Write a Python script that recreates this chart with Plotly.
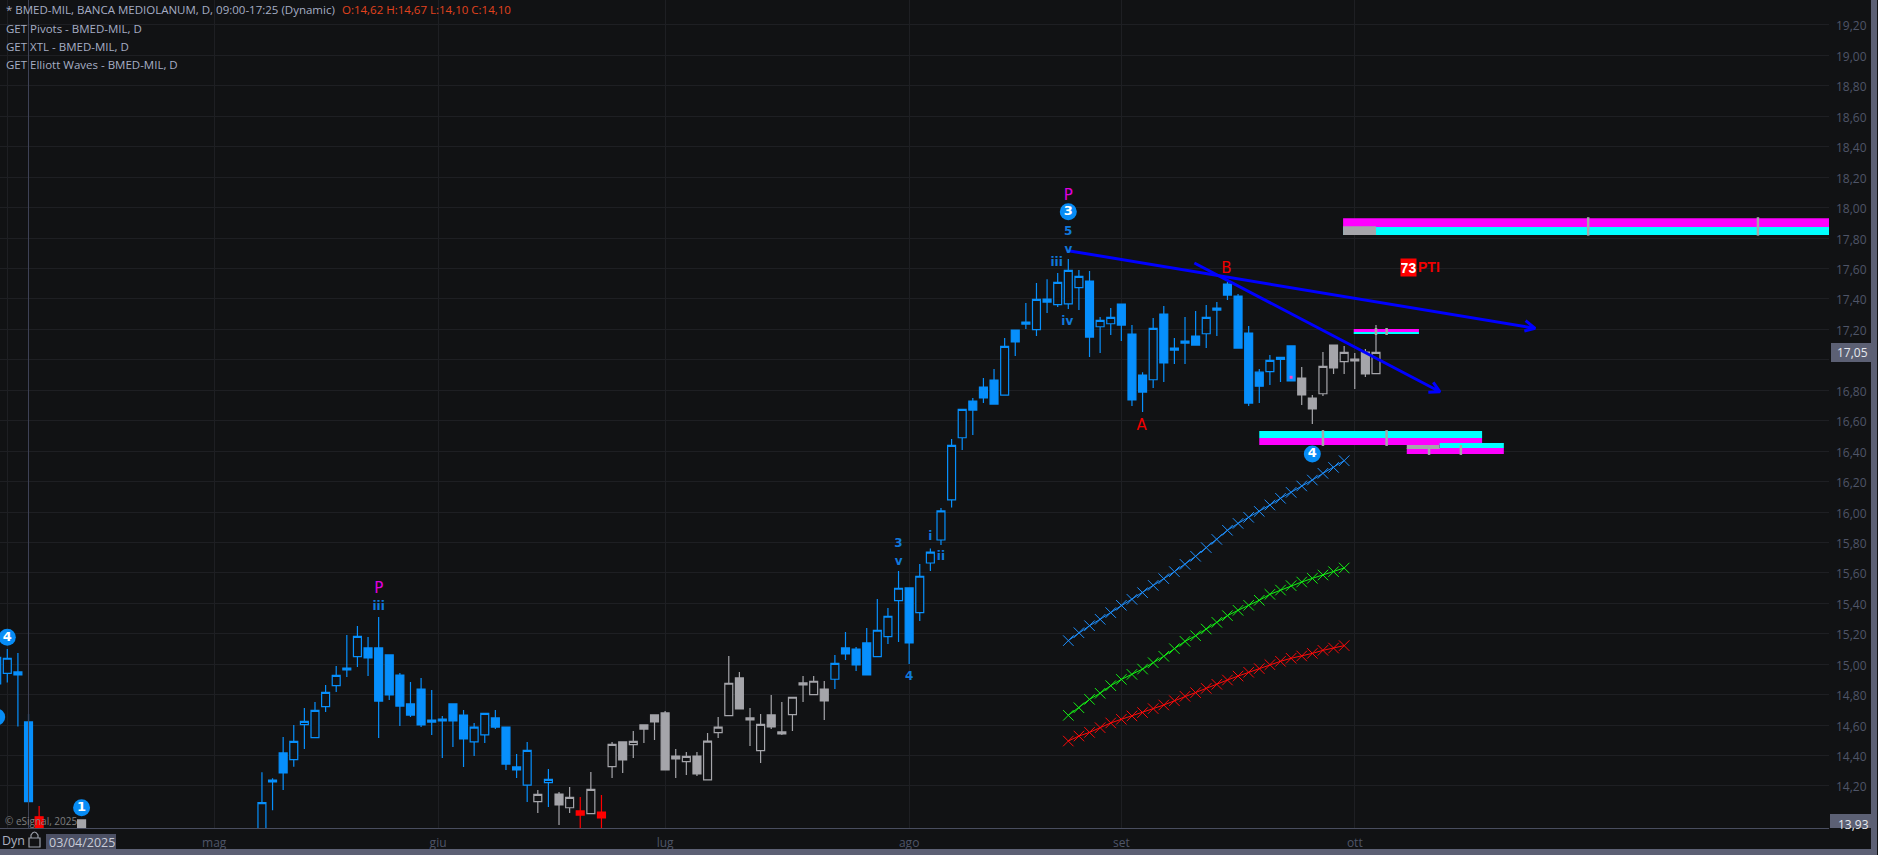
import plotly.graph_objects as go

# ---------- candle data ----------
candle_index = [-1, 0, 1, 2, 3, 7] + list(range(24, 130))
candle_group = list("bbbbrg" + "bbbbbbbbbbbbbbbbbbbbbbbbbb" + "g" + "b" + "gg" + "r" + "g" + "r"
                    + "ggggggggggggggggggggg" + "b" * 44 + "gggggggg")
open_ = [14.87, 14.94, 14.949, 14.621, 13.997, 13.977,
         13.85, 14.239, 14.417, 14.373, 14.603, 14.517, 14.721, 14.859, 14.975, 15.05,
         15.107, 15.107, 15.061, 14.929, 14.739, 14.837, 14.633, 14.64, 14.739, 14.666,
         14.489, 14.535, 14.647, 14.587, 14.325, 14.206, 14.097, 14.222, 14.147, 14.057,
         14.036, 14.018, 14.029, 14.327, 14.489, 14.471, 14.601, 14.667, 14.68, 14.397,
         14.36, 14.397, 14.24, 14.55, 14.662, 14.91, 14.647, 14.432, 14.667, 14.555,
         14.669, 14.877, 14.80, 14.837, 14.901, 15.107, 15.10, 15.14, 15.05, 15.181,
         15.418, 15.501, 15.339, 15.665, 15.816, 16.08, 16.488, 16.729, 16.821, 16.867,
         16.768, 17.195, 17.248, 17.198, 17.399, 17.362, 17.368, 17.474, 17.517, 17.217,
         17.237, 17.366, 17.169, 16.90, 16.869, 17.301, 17.077, 17.123, 17.156, 17.171,
         17.34, 17.498, 17.419, 17.176, 16.919, 16.922, 17.003, 17.091, 16.88, 16.749,
         16.777, 17.097, 16.988, 17.005, 17.051, 16.909]
high = [15.05, 15.10, 15.074, 14.673, 14.069, 13.977,
        14.29, 14.25, 14.522, 14.60, 14.712, 14.752, 14.863, 14.988, 15.192, 15.251,
        15.179, 15.31, 15.061, 14.942, 14.883, 14.909, 14.831, 14.66, 14.739, 14.699,
        14.614, 14.677, 14.699, 14.587, 14.41, 14.489, 14.173, 14.311, 14.16, 14.193,
        14.127, 14.292, 14.141, 14.489, 14.489, 14.561, 14.601, 14.667, 14.693, 14.443,
        14.423, 14.423, 14.548, 14.653, 15.054, 14.949, 14.713, 14.673, 14.798, 14.752,
        14.783, 14.923, 14.923, 14.89, 15.061, 15.212, 15.113, 15.238, 15.429, 15.37,
        15.613, 15.501, 15.659, 15.76, 16.026, 16.48, 16.674, 16.749, 16.88, 16.939,
        17.143, 17.195, 17.373, 17.504, 17.53, 17.57, 17.662, 17.59, 17.583, 17.281,
        17.34, 17.366, 17.228, 16.919, 17.274, 17.353, 17.143, 17.281, 17.32, 17.36,
        17.379, 17.511, 17.432, 17.222, 16.939, 17.031, 17.018, 17.091, 16.953, 16.769,
        17.051, 17.097, 17.09, 17.045, 17.071, 17.229]
low = [14.86, 14.879, 14.59, 14.097, 13.80, 13.85,
       13.80, 14.04, 14.173, 14.327, 14.443, 14.517, 14.686, 14.817, 14.916, 14.982,
       14.923, 14.515, 14.765, 14.594, 14.653, 14.587, 14.535, 14.384, 14.456, 14.325,
       14.397, 14.482, 14.574, 14.305, 14.252, 14.095, 14.022, 14.062, 13.944, 14.022,
       13.90, 14.016, 13.90, 14.252, 14.285, 14.384, 14.482, 14.502, 14.305, 14.253,
       14.272, 14.266, 14.24, 14.515, 14.66, 14.706, 14.463, 14.351, 14.575, 14.535,
       14.561, 14.752, 14.798, 14.634, 14.837, 15.028, 14.956, 14.929, 15.048, 15.133,
       15.146, 15.002, 15.284, 15.613, 15.783, 16.03, 16.407, 16.506, 16.716, 16.709,
       16.768, 17.025, 17.202, 17.156, 17.307, 17.347, 17.333, 17.327, 17.018, 17.044,
       17.163, 17.123, 16.696, 16.657, 16.814, 16.854, 16.972, 16.972, 17.097, 17.077,
       17.156, 17.393, 17.077, 16.696, 16.716, 16.834, 16.854, 16.861, 16.703, 16.578,
       16.762, 16.907, 16.907, 16.808, 16.887, 16.907]
close = [15.045, 15.039, 14.929, 14.097, 13.85, 13.85,
         14.09, 14.226, 14.285, 14.493, 14.625, 14.697, 14.815, 14.927, 14.962, 15.183,
         15.041, 14.758, 14.798, 14.725, 14.666, 14.601, 14.62, 14.627, 14.627, 14.509,
         14.587, 14.677, 14.587, 14.344, 14.305, 14.434, 14.145, 14.243, 14.075, 14.125,
         14.009, 14.178, 13.99, 14.473, 14.371, 14.493, 14.574, 14.621, 14.305, 14.378,
         14.395, 14.279, 14.494, 14.586, 14.875, 14.706, 14.634, 14.605, 14.588, 14.542,
         14.783, 14.864, 14.888, 14.759, 15.006, 15.067, 14.995, 14.929, 15.223, 15.315,
         15.499, 15.14, 15.578, 15.737, 16.007, 16.438, 16.674, 16.67, 16.749, 16.709,
         17.088, 17.117, 17.235, 17.397, 17.379, 17.509, 17.587, 17.548, 17.149, 17.259,
         17.279, 17.228, 16.736, 16.788, 17.206, 16.979, 17.064, 17.11, 17.097, 17.279,
         17.327, 17.425, 17.077, 16.716, 16.827, 16.996, 17.016, 16.861, 16.769, 16.677,
         16.957, 16.946, 17.049, 16.992, 16.907, 17.049]

# ---------- crossed lines ----------
xline_index = list(range(100, 127))
xline_blue = [15.155, 15.207, 15.253, 15.295, 15.339, 15.387, 15.426, 15.47, 15.518, 15.562, 15.608,
              15.656, 15.709, 15.766, 15.82, 15.88, 15.925, 15.965, 16.004, 16.046, 16.09, 16.129,
              16.171, 16.21, 16.254, 16.293, 16.337]
xline_green = [14.664, 14.714, 14.769, 14.809, 14.859, 14.9, 14.933, 14.968, 15.01, 15.052, 15.102,
               15.15, 15.187, 15.231, 15.275, 15.319, 15.354, 15.387, 15.42, 15.459, 15.487, 15.516,
               15.54, 15.564, 15.586, 15.608, 15.632]
xline_red = [14.495, 14.528, 14.552, 14.583, 14.614, 14.638, 14.66, 14.682, 14.708, 14.732, 14.76,
             14.789, 14.813, 14.841, 14.868, 14.896, 14.922, 14.947, 14.971, 14.997, 15.019, 15.039,
             15.054, 15.071, 15.091, 15.106, 15.122]

# ---------- zones: x0, x1, y0, y1, colour ----------
MAGENTA, CYAN, ZGRAY = "#ff00ff", "#00ffff", "#a5a5aa"
zone_x0 = [125.9, 125.9, 125.9, 126.9, 126.9, 118, 118, 135, 131.9, 131.9]
zone_x1 = [172.5, 172.5, 129, 133.05, 133.05, 139, 139, 141.05, 141.05, 135]
zone_y0 = [17.872, 17.82, 17.82, 17.183, 17.17, 16.486, 16.44, 16.421, 16.381, 16.414]
zone_y1 = [17.93, 17.872, 17.878, 17.202, 17.183, 16.532, 16.486, 16.453, 16.421, 16.44]
zone_col = [MAGENTA, CYAN, ZGRAY, MAGENTA, CYAN, CYAN, MAGENTA, CYAN, MAGENTA, ZGRAY]
tick_x = [149, 165, 129, 130, 124, 130, 134, 137]
tick_y0 = [17.816, 17.816, 17.163, 17.163, 16.434, 16.434, 16.375, 16.375]
tick_y1 = [17.937, 17.937, 17.209, 17.209, 16.538, 16.538, 16.44, 16.44]

# ---------- blue arrows ----------
arrow1_x = [100, 144, 143.1, 144, 142.98]
arrow1_y = [17.717, 17.207, 17.257, 17.207, 17.189]
arrow2_x = [111.88, 135.03, 134.4, 135.03, 133.93]
arrow2_y = [17.636, 16.79, 16.852, 16.79, 16.786]

# ---------- wave labels ----------
badge_x = [100, 123, 7, 0, -1]
badge_y = [17.973, 16.381, 14.057, 15.177, 14.653]
badge_txt = ["3", "4", "1", "4", ""]
wave_x = [100, 100, 100, 98.9, 99.9, 35, 35, 84, 84, 85, 87, 88]
wave_y = [18.073, 17.843, 17.723, 17.639, 17.247, 15.49, 15.379, 15.789, 15.671, 14.914, 15.836, 15.703]
wave_txt = ["P", "5", "v", "iii", "iv", "P", "iii", "3", "v", "4", "i", "ii"]
wave_size = [15, 12, 12, 12, 12, 15, 12, 12, 12, 12, 12, 12]
wave_weight = [400, 700, 700, 700, 700, 400, 700, 700, 700, 700, 700, 700]
wave_col = ["#e000e0", "#0f78dc", "#0f78dc", "#0f78dc", "#0f78dc", "#e000e0", "#0f78dc",
            "#0f78dc", "#0f78dc", "#0f78dc", "#0f78dc", "#0f78dc"]
red_x = [106.9, 114.9]
red_y = [16.566, 17.598]
red_txt = ["A", "B"]
dot_x = [121]
dot_y = [16.885]

# ---------- axes ----------
y_ticks = [14.2, 14.4, 14.6, 14.8, 15.0, 15.2, 15.4, 15.6, 15.8, 16.0, 16.2, 16.4, 16.6, 16.8,
           17.0, 17.2, 17.4, 17.6, 17.8, 18.0, 18.2, 18.4, 18.6, 18.8, 19.0, 19.2]
y_labels = ["14,20", "14,40", "14,60", "14,80", "15,00", "15,20", "15,40", "15,60", "15,80", "16,00",
            "16,20", "16,40", "16,60", "16,80", "", "17,20", "17,40", "17,60", "17,80", "18,00",
            "18,20", "18,40", "18,60", "18,80", "19,00", "19,20"]
month_pos = [0, 19.5, 40.6, 62, 85, 105, 127]
month_lab = ["", "mag", "giu", "lug", "ago", "set", "ott"]

BG = "#111214"
GRID = "#1e1f23"
BAR = "#5c6074"
TICKC = "#4f5568"
W, H, PW, PH = 1878, 855, 1829, 828
fx = lambda px: px / PW
fy = lambda py: 1 - py / PH

fig = go.Figure()

# candles
styles = {"b": "#078ffc", "g": "#a5a5aa", "r": "#ff0000"}
for g, col in styles.items():
    ids = [k for k, c in enumerate(candle_group) if c == g]
    fig.add_trace(go.Candlestick(
        x=[candle_index[k] for k in ids], open=[open_[k] for k in ids], high=[high[k] for k in ids],
        low=[low[k] for k in ids], close=[close[k] for k in ids], whiskerwidth=0,
        increasing=dict(line=dict(color=col, width=1.2), fillcolor=BG),
        decreasing=dict(line=dict(color=col, width=1.2), fillcolor=col),
        showlegend=False, hoverinfo="skip"))
fig.add_trace(go.Scatter(x=dot_x, y=dot_y, mode="markers", marker=dict(symbol="square", size=3, color="#ff40c0"),
                         showlegend=False, hoverinfo="skip"))

# crossed lines
for ys, col in ((xline_blue, "#1e90ff"), (xline_green, "#14f014"), (xline_red, "#ff0a0a")):
    fig.add_trace(go.Scatter(x=xline_index, y=ys, mode="lines+markers", line=dict(color=col, width=1),
                             marker=dict(symbol="x-thin", size=10.5, line=dict(color=col, width=1)),
                             showlegend=False, hoverinfo="skip"))

# zones
for x0, x1, y0, y1, col in zip(zone_x0, zone_x1, zone_y0, zone_y1, zone_col):
    fig.add_trace(go.Scatter(x=[x0, x1, x1, x0, x0], y=[y0, y0, y1, y1, y0], mode="none", fill="toself",
                             fillcolor=col, showlegend=False, hoverinfo="skip"))
for x, y0, y1 in zip(tick_x, tick_y0, tick_y1):
    fig.add_trace(go.Scatter(x=[x, x], y=[y0, y1], mode="lines", line=dict(color=ZGRAY, width=2.5),
                             showlegend=False, hoverinfo="skip"))

# arrows
for ax, ay in ((arrow1_x, arrow1_y), (arrow2_x, arrow2_y)):
    fig.add_trace(go.Scatter(x=ax, y=ay, mode="lines", line=dict(color="#0000ff", width=3),
                             showlegend=False, hoverinfo="skip"))

# badges
fig.add_trace(go.Scatter(x=badge_x, y=badge_y, mode="markers+text", text=badge_txt, textposition="middle center",
                         marker=dict(size=17, color="#078cf5"),
                         textfont=dict(family="DejaVu Sans", size=13, color="#ffffff", weight="bold"),
                         showlegend=False, hoverinfo="skip"))
# wave labels
fig.add_trace(go.Scatter(x=wave_x, y=wave_y, mode="text", text=wave_txt, textposition="middle center",
                         textfont=dict(family="DejaVu Sans", size=wave_size, color=wave_col, weight=wave_weight),
                         showlegend=False, hoverinfo="skip"))
fig.add_trace(go.Scatter(x=red_x, y=red_y, mode="text", text=red_txt, textposition="middle center",
                         textfont=dict(family="DejaVu Sans", size=15, color="#f00000"),
                         showlegend=False, hoverinfo="skip"))

# crosshair + chrome shapes
shapes = [
    dict(type="line", xref="x", yref="paper", x0=2, x1=2, y0=0, y1=1, line=dict(color="#3f4458", width=1), layer="above"),
    dict(type="rect", xref="paper", yref="paper", x0=fx(0), x1=fx(1877), y0=fy(849), y1=fy(855), fillcolor=BAR, line_width=0),
    dict(type="rect", xref="paper", yref="paper", x0=fx(1871), x1=fx(1877), y0=fy(0), y1=fy(855), fillcolor=BAR, line_width=0),
    dict(type="rect", xref="paper", yref="paper", x0=fx(1830), x1=fx(1871), y0=fy(814), y1=fy(828), fillcolor=BAR, line_width=0),
    dict(type="rect", xref="paper", yref="paper", x0=fx(1831), x1=fx(1871), y0=fy(343), y1=fy(362), fillcolor=BAR, line_width=0),
    dict(type="rect", xref="paper", yref="paper", x0=fx(46), x1=fx(116), y0=fy(834), y1=fy(849), fillcolor="#4c5064", line_width=0),
    dict(type="rect", xref="paper", yref="paper", x0=fx(29), x1=fx(40), y0=fy(838), y1=fy(847),
         fillcolor=BG, line=dict(color="#9a9ea8", width=1.2)),
    dict(type="path", xref="paper", yref="paper",
         path=f"M {fx(31)} {fy(838)} L {fx(31)} {fy(835)} Q {fx(34.5)} {fy(829)} {fx(38)} {fy(835)} L {fx(38)} {fy(838)}",
         line=dict(color="#9a9ea8", width=1.2)),
]

def label(text, px, py, color, size=11.5, family="Open Sans", anchor="left", **kw):
    return dict(text=text, xref="paper", yref="paper", x=fx(px), y=fy(py), xanchor=anchor, yanchor="middle",
                showarrow=False, font=dict(family=family, size=size, color=color), borderpad=0, **kw)

annos = [
    label("* BMED-MIL, BANCA MEDIOLANUM, D, 09:00-17:25 (Dynamic)", 5, 9, "#a6aec4"),
    label("O:14,62 H:14,67 L:14,10 C:14,10", 341, 9, "#e2431e"),
    label("GET Pivots - BMED-MIL, D", 5, 28, "#a6aec4"),
    label("GET XTL - BMED-MIL, D", 5, 46, "#a6aec4"),
    label("GET Elliott Waves - BMED-MIL, D", 5, 64, "#a6aec4"),
    label("© eSignal, 2025", 4, 820.5, "#7f7f7f", size=10),
    label("Dyn", 1, 840, "#aab0c0", size=12.5),
    label("03/04/2025", 48, 842, "#c8ccd8", size=12.5),
    label("17,05", 1836, 352, "#e6e8ee", size=12),
    label("13,93", 1837, 824, "#e6e8ee", size=12),
    dict(text="<b>73</b>", x=132.05, y=17.608, xref="x", yref="y", showarrow=False, bgcolor="#ff0000", width=15, height=17,
         font=dict(family="Liberation Sans Narrow, Liberation Sans", size=14, color="#ffffff"), borderpad=0),
    dict(text="<b>PTI</b>", x=(1416.5 - 7.3) / 10.61, y=17.608, xref="x", yref="y", showarrow=False, xanchor="left",
         font=dict(family="Liberation Sans", size=14, color="#f00000"), borderpad=0),
]
# price-scale labels, placed by the y axis
for val, txt in zip(y_ticks, y_labels):
    if txt:
        annos.append(dict(text=txt, xref="paper", yref="y", x=fx(1835), y=val, yshift=-1, xanchor="left", yanchor="middle",
                          showarrow=False, borderpad=0, font=dict(family="Open Sans", size=12, color=TICKC)))

fig.update_layout(
    width=W, height=H, margin=dict(l=0, r=W - PW, t=0, b=H - PH, pad=0, autoexpand=False),
    paper_bgcolor=BG, plot_bgcolor=BG, showlegend=False, boxgap=0.25, boxgroupgap=0,
    shapes=shapes, annotations=annos,
    xaxis=dict(range=[-7.3 / 10.61, (PW - 7.3) / 10.61], rangeslider=dict(visible=False), tickmode="array",
               tickvals=month_pos, ticktext=month_lab, showgrid=True, gridcolor=GRID, gridwidth=1, zeroline=False,
               showline=True, linecolor="#494d5f", linewidth=1, ticks="", ticklabelstandoff=4,
               tickfont=dict(family="Open Sans", size=12, color=TICKC)),
    yaxis=dict(range=[19.364 - PH / 152.2, 19.364], side="right", tickmode="array", tickvals=y_ticks,
               showticklabels=False, showgrid=True, gridcolor=GRID, gridwidth=1, zeroline=False, showline=False, ticks=""),
)

fig.write_html("out.html", config={"displayModeBar": False},
               post_script="document.body.style.margin='0';document.body.style.background='#111214';document.documentElement.style.overflow='hidden';")
